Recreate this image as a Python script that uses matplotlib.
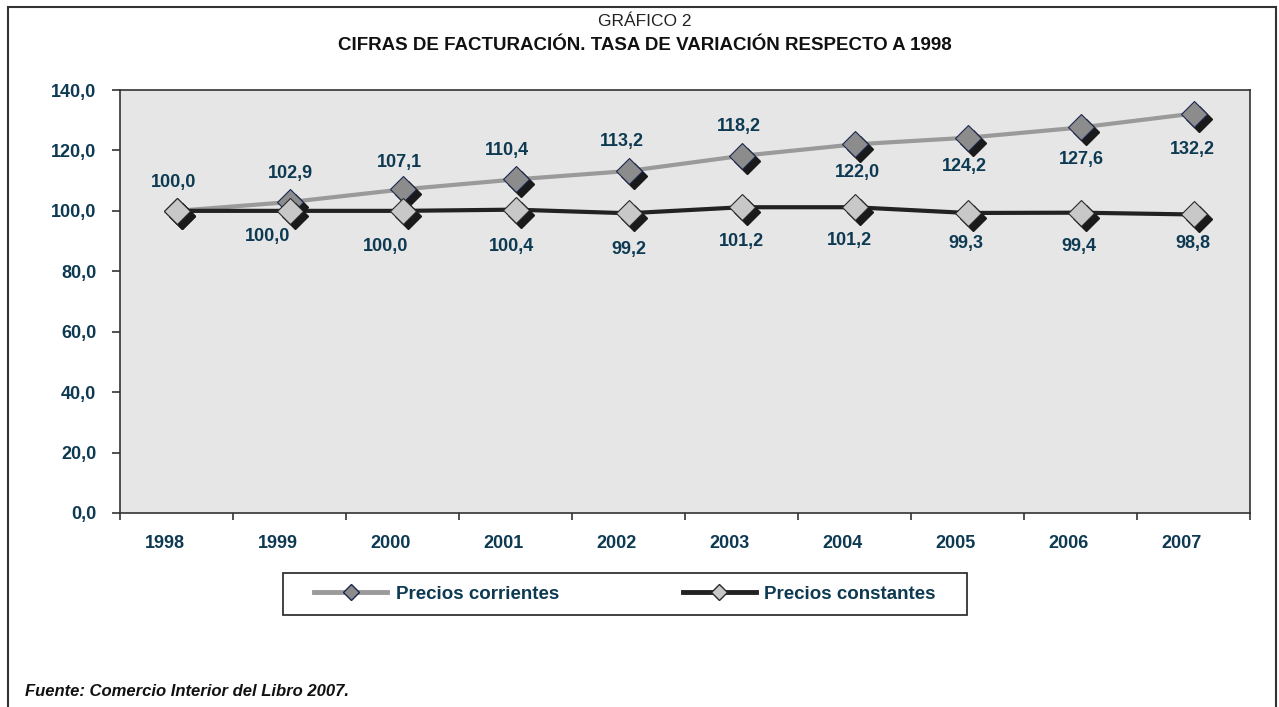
import matplotlib
matplotlib.use("Agg")
import matplotlib.pyplot as plt
import matplotlib.transforms as mtransforms
from matplotlib.lines import Line2D
from matplotlib.patches import Rectangle

# Data
years = ["1998", "1999", "2000", "2001", "2002", "2003", "2004", "2005", "2006", "2007"]
corrientes = [100.0, 102.9, 107.1, 110.4, 113.2, 118.2, 122.0, 124.2, 127.6, 132.2]
constantes = [100.0, 100.0, 100.0, 100.4, 99.2, 101.2, 101.2, 99.3, 99.4, 98.8]
# which constant-price labels are shown (1998 label sits behind the other one)
const_show = [False, True, True, True, True, True, True, True, True, True]

# label nudges in pixels (dx, dy), as placed in the original
corr_dx = [-3, 1, -3, -9, -7, -3, 3, -3, 1, -1]
corr_dy = [28, 29, 27, 29, 29, 29, -28, -29, -32, -36]
const_dx = [0, -22, -17, -4, 0, 0, -5, -2, -2, -1]
const_dy = [0, -26, -36, -37, -36, -34, -33, -31, -34, -29]

text_color = "#0d3a52"
W, H = 1279, 707
plt.rcParams['font.family'] = ['Liberation Sans', 'DejaVu Sans']

fig = plt.figure(figsize=(W / 100, H / 100), dpi=100)

# outer frame around everything
fig.patches.append(Rectangle((8 / W, -0.01), 1268 / W, 1 - 7 / H + 0.01,
                             transform=fig.transFigure, fill=False,
                             edgecolor="#333333", linewidth=1.5))

ax = fig.add_axes([120 / W, 1 - 513 / H, 1130 / W, 423 / H])
ax.set_facecolor("#e6e6e6")

x = list(range(len(years)))


def fmt(v):
    return f"{v:.1f}".replace(".", ",")


shadow = mtransforms.offset_copy(ax.transData, fig=fig, x=5, y=-5, units='dots')

# lines
ax.plot(x, corrientes, color="#9a9a9a", linewidth=3, zorder=2)
ax.plot(x, constantes, color="#222222", linewidth=3, zorder=2.5)

# diamond markers with drop shadow (constant series drawn on top)
ms = 13.5
ax.plot(x, corrientes, linestyle="none", marker="D", markersize=ms,
        color="#1a1a1a", transform=shadow, zorder=3)
ax.plot(x, corrientes, linestyle="none", marker="D", markersize=ms,
        markerfacecolor="#8c8c8c", markeredgecolor="#1c2850", markeredgewidth=0.8, zorder=4)
ax.plot(x, constantes, linestyle="none", marker="D", markersize=ms,
        color="#1a1a1a", transform=shadow, zorder=5)
ax.plot(x, constantes, linestyle="none", marker="D", markersize=ms,
        markerfacecolor="#c8c8c8", markeredgecolor="#2a2a2a", markeredgewidth=0.8, zorder=6)

# data labels
for xi, v, dx, dy in zip(x, corrientes, corr_dx, corr_dy):
    ax.annotate(fmt(v), (xi, v), xytext=(dx, dy), textcoords="offset pixels",
                ha="center", va="center", fontsize=13, fontweight="bold", color=text_color)
for xi, v, show, dx, dy in zip(x, constantes, const_show, const_dx, const_dy):
    if show:
        ax.annotate(fmt(v), (xi, v), xytext=(dx, dy), textcoords="offset pixels",
                    ha="center", va="center", fontsize=13, fontweight="bold", color=text_color)

# axes
ax.set_xlim(-0.5, len(years) - 0.5)
ax.set_ylim(0, 140)
ax.set_yticks(range(0, 141, 20))
ax.set_yticklabels([fmt(v) for v in range(0, 141, 20)])
ax.set_xticks([i - 0.5 for i in range(len(years) + 1)])
ax.set_xticklabels([])
ax.set_xticks(x, minor=True)
ax.set_xticklabels(years, minor=True)
ax.tick_params(axis="x", which="major", direction="out", length=5, width=1.2, color="#333333")
ax.tick_params(axis="x", which="minor", length=0, pad=16, labelsize=13, labelcolor=text_color)
ax.tick_params(axis="y", direction="out", length=6, width=1.2, color="#333333", pad=11,
               labelsize=13, labelcolor=text_color)
shift = mtransforms.ScaledTranslation(-12 / 100, 0, fig.dpi_scale_trans)
for lab in ax.get_xticklabels(minor=True):
    lab.set_fontweight("bold")
    lab.set_transform(lab.get_transform() + shift)
for lab in ax.get_yticklabels():
    lab.set_fontweight("bold")
for sp in ax.spines.values():
    sp.set_color("#333333")
    sp.set_linewidth(1.2)

# titles
fig.text(645 / W, 1 - 22 / H, "GRÁFICO 2", ha="center", va="center", fontsize=12.5, color="#222222")
fig.text(645 / W, 1 - 46 / H, "CIFRAS DE FACTURACIÓN. TASA DE VARIACIÓN RESPECTO A 1998",
         ha="center", va="center", fontsize=13.5, fontweight="bold", color="#111111")

# legend with a hand-placed frame
fig.patches.append(Rectangle((283 / W, 1 - 615 / H), 684 / W, 42 / H,
                             transform=fig.transFigure, fill=False,
                             edgecolor="#333333", linewidth=1.3))
handles = [
    Line2D([], [], color="#9a9a9a", linewidth=3.5, marker="D", markersize=8,
           markerfacecolor="#8c8c8c", markeredgecolor="#1c2850"),
    Line2D([], [], color="#222222", linewidth=3.5, marker="D", markersize=8,
           markerfacecolor="#c8c8c8", markeredgecolor="#2a2a2a"),
]
leg = fig.legend(handles, ["Precios corrientes", "Precios constantes"], ncol=2,
                 loc="center", bbox_to_anchor=(625 / W, 1 - 594 / H),
                 frameon=False, handlelength=3.9, handletextpad=0.45, columnspacing=6.6,
                 prop={"weight": "bold", "size": 13.5})
for t in leg.get_texts():
    t.set_color(text_color)

fig.text(25 / W, 1 - 692 / H, "Fuente: Comercio Interior del Libro 2007.",
         ha="left", va="center", fontsize=12, fontweight="bold", style="italic", color="#111111")

fig.savefig("out.png", dpi=100)
